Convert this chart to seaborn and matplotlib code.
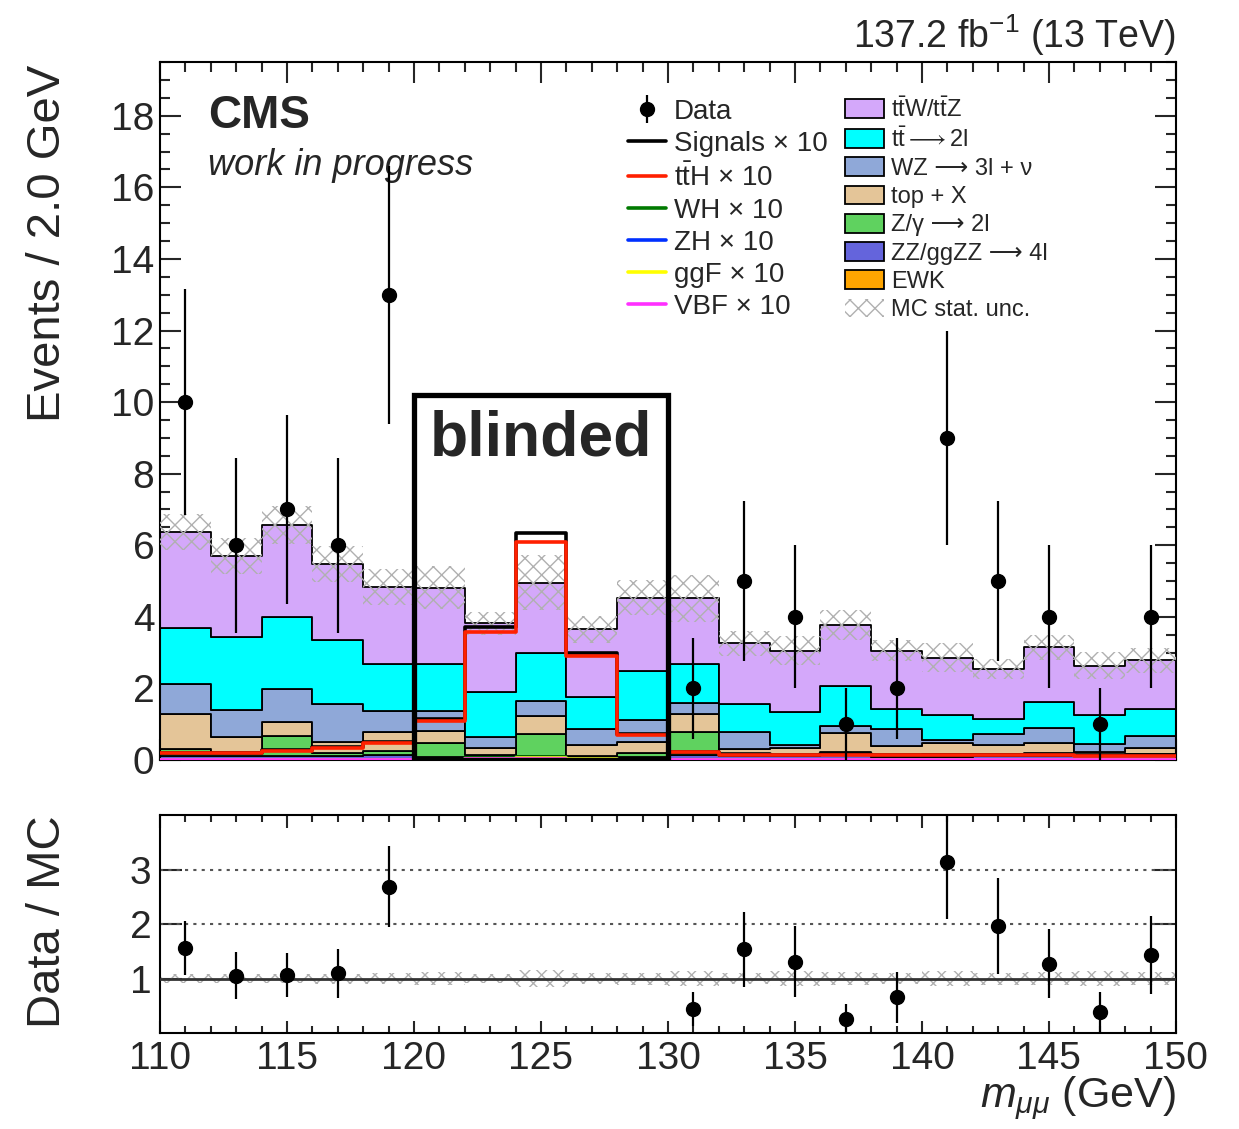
import numpy as np
import pandas as pd
import matplotlib
matplotlib.use("Agg")
import matplotlib.pyplot as plt
from matplotlib.patches import Patch, Rectangle
from matplotlib.lines import Line2D
from matplotlib.ticker import MultipleLocator, NullLocator, FixedLocator
import seaborn as sns

# ---------------- data ----------------
bin_edges = np.arange(110, 152, 2)          # 2 GeV bins, 110-150
bin_centers = 0.5 * (bin_edges[:-1] + bin_edges[1:])

ttw_ttz = [2.70, 2.25, 2.58, 2.12, 2.17, 2.15, 1.93, 1.98, 1.90, 2.04,
           1.85, 1.69, 1.71, 1.69, 1.63, 1.60, 1.40, 1.52, 1.37, 1.35]
tt_2l = [1.56, 2.05, 2.01, 1.79, 1.29, 1.29, 1.26, 1.33, 0.89, 1.38,
         1.09, 0.80, 0.93, 1.12, 0.57, 0.70, 0.41, 0.74, 0.83, 0.77]
wz_3l = [0.84, 0.75, 0.91, 1.05, 0.61, 0.56, 0.29, 0.42, 0.44, 0.61,
         0.29, 0.46, 0.09, 0.21, 0.47, 0.09, 0.31, 0.42, 0.22, 0.34]
top_x = [0.98, 0.43, 0.40, 0.31, 0.52, 0.34, 0.19, 0.51, 0.32, 0.31,
         0.50, 0.16, 0.18, 0.53, 0.25, 0.30, 0.25, 0.27, 0.07, 0.16]
z_gamma = [0.20, 0.12, 0.55, 0.10, 0.10, 0.40, 0.07, 0.62, 0.05, 0.12,
           0.65, 0.05, 0.05, 0.08, 0.05, 0.08, 0.06, 0.10, 0.05, 0.05]
zz_4l = [0.08, 0.08, 0.09, 0.08, 0.12, 0.06, 0.06, 0.08, 0.03, 0.06,
         0.10, 0.08, 0.08, 0.10, 0.07, 0.07, 0.08, 0.07, 0.08, 0.08]
ewk = [0.02, 0.02, 0.03, 0.02, 0.03, 0.02, 0.02, 0.02, 0.02, 0.02,
       0.04, 0.02, 0.02, 0.04, 0.02, 0.02, 0.03, 0.03, 0.02, 0.04]

mc_stat_unc = [0.50, 0.50, 0.53, 0.50, 0.50, 0.60, 0.32, 0.77, 0.37, 0.50,
               0.65, 0.35, 0.40, 0.42, 0.30, 0.40, 0.28, 0.35, 0.37, 0.35]

# signals (x10)
tth_x10 = [0.19, 0.19, 0.26, 0.34, 0.49, 1.10, 3.59, 6.10, 2.91, 0.70,
           0.22, 0.15, 0.14, 0.15, 0.14, 0.13, 0.13, 0.13, 0.12, 0.12]
wh_x10 = [0.005, 0.005, 0.005, 0.005, 0.008, 0.015, 0.05, 0.08, 0.03, 0.01,
          0.005, 0.005, 0.005, 0.005, 0.005, 0.005, 0.005, 0.005, 0.005, 0.005]
zh_x10 = [0.004, 0.004, 0.004, 0.004, 0.006, 0.012, 0.04, 0.07, 0.03, 0.008,
          0.004, 0.004, 0.004, 0.004, 0.004, 0.004, 0.004, 0.004, 0.004, 0.004]
ggf_x10 = [0.003, 0.003, 0.003, 0.003, 0.005, 0.01, 0.03, 0.05, 0.02, 0.006,
           0.003, 0.003, 0.003, 0.003, 0.003, 0.003, 0.003, 0.003, 0.003, 0.003]
vbf_x10 = [0.002, 0.002, 0.002, 0.002, 0.003, 0.006, 0.02, 0.03, 0.01, 0.004,
           0.002, 0.002, 0.002, 0.002, 0.002, 0.002, 0.002, 0.002, 0.002, 0.002]

data_counts = [10, 6, 7, 6, 13, np.nan, np.nan, np.nan, np.nan, np.nan,
               2, 5, 4, 1, 2, 9, 5, 4, 1, 4]

blind_lo, blind_hi, blind_top = 120, 130, 10.2

bkg_names = ["ttW/ttZ", "tt->2l", "WZ", "top+X", "Z/gamma", "ZZ", "EWK"]
bkg_values = [ttw_ttz, tt_2l, wz_3l, top_x, z_gamma, zz_4l, ewk]
bkg_colors = ["#d4a8fa", "#00ffff", "#8fa8d8", "#e4c598", "#5fd25f", "#6464dc", "#ffa500"]
bkg_labels = [r"t$\bar{\rm t}$W/t$\bar{\rm t}$Z", r"t$\bar{\rm t}\longrightarrow$2l",
              "WZ ⟶ 3l + ν", "top + X", "Z/γ ⟶ 2l", "ZZ/ggZZ ⟶ 4l", "EWK"]

# ---------------- style ----------------
sns.set_theme(style="ticks")
plt.rcParams.update({
    "font.family": ["Liberation Sans", "DejaVu Sans"],
    "mathtext.fontset": "custom",
    "mathtext.rm": "Liberation Sans",
    "mathtext.it": "Liberation Sans:italic",
    "mathtext.bf": "Liberation Sans:bold",
    "mathtext.fallback": "stixsans",
    "axes.linewidth": 1.5,
    "axes.edgecolor": "black",
    "hatch.linewidth": 1.0,
    "hatch.color": "#b0b0b0",
})
HATCH = "xx"

fig = plt.figure(figsize=(12.39, 11.29), dpi=100)
ax = fig.add_axes([0.1291, 0.3268, 0.8200, 0.6182])
rax = fig.add_axes([0.1291, 0.0850, 0.8200, 0.1931], sharex=ax)

# ---------------- stacked backgrounds ----------------
rows = []
for name, vals in zip(bkg_names, bkg_values):
    for c, v in zip(bin_centers, vals):
        rows.append((c, v, name))
bkg = pd.DataFrame(rows, columns=["mass", "events", "process"])

sns.histplot(data=bkg, x="mass", weights="events", hue="process",
             hue_order=bkg_names, palette=dict(zip(bkg_names, bkg_colors)),
             multiple="stack", binwidth=2, binrange=(110, 150), element="step", fill=True,
             alpha=1, edgecolor="black", linewidth=1.3, legend=False, ax=ax)

total = np.sum(np.array(bkg_values), axis=0)
unc = np.array(mc_stat_unc)

# MC stat band
ax.fill_between(bin_edges, np.append(total - unc, (total - unc)[-1]),
                np.append(total + unc, (total + unc)[-1]), step="post",
                facecolor="none", edgecolor="#b0b0b0", hatch=HATCH,
                linewidth=0, zorder=3)

# signals
signals_sum = (np.array(tth_x10) + np.array(wh_x10) + np.array(zh_x10)
               + np.array(ggf_x10) + np.array(vbf_x10))
sig_specs = [(signals_sum, "black"), (tth_x10, "#ff2000"), (wh_x10, "#007a00"),
             (zh_x10, "#0030ff"), (ggf_x10, "#ffff00"), (vbf_x10, "#ff30ff")]
for vals, col in sig_specs:
    sns.histplot(x=bin_centers, weights=vals, binwidth=2, binrange=(110, 150), element="step",
                 fill=False, color=col, linewidth=2.6, ax=ax, zorder=4)

# data
data = np.array(data_counts, dtype=float)
eb = ax.errorbar(bin_centers, data, yerr=np.sqrt(data), fmt="o", color="black",
                 ms=10, elinewidth=1.6, capsize=0, zorder=6)

# blinded box
ax.add_patch(Rectangle((blind_lo, 0), blind_hi - blind_lo, blind_top, fill=False,
                       edgecolor="black", linewidth=3.8, zorder=7))
ax.text(0.5 * (blind_lo + blind_hi), 8.5, "blinded", ha="center", va="baseline",
        fontsize=45, fontweight="bold", zorder=8)

ax.set_xlim(110, 150)
ax.set_ylim(0, 19.5)
ax.yaxis.set_major_locator(MultipleLocator(2))
ax.yaxis.set_minor_locator(MultipleLocator(0.5))
ax.xaxis.set_major_locator(MultipleLocator(5))
ax.xaxis.set_minor_locator(MultipleLocator(1))
ax.tick_params(which="both", direction="in", top=True, right=True, width=1.5,
               labelbottom=False, labelsize=28, pad=4)
ax.tick_params(which="major", length=15)
ax.tick_params(which="minor", length=7.5)
ax.set_xlabel("")
ax.set_ylabel("Events / 2.0 GeV", fontsize=34, loc="top")
ax.yaxis.set_label_coords(-0.089, 0.996)

# texts
ax.text(0.047, 0.9054, "CMS", transform=ax.transAxes, fontsize=33,
        fontweight="bold", va="baseline", ha="left")
ax.text(0.047, 0.838, "work in progress", transform=ax.transAxes, fontsize=26,
        style="italic", va="baseline", ha="left")
fig.text(0.9492, 0.9575, r"137.2 fb$^{-1}$ (13 TeV)", ha="right",
         va="baseline", fontsize=27)

# legends
left_handles = [eb] + [Line2D([], [], color=c, lw=2.6) for _, c in sig_specs]
left_labels = ["Data", "Signals × 10", r"t$\bar{\rm t}$H × 10", "WH × 10",
               "ZH × 10", "ggF × 10", "VBF × 10"]
leg1 = ax.legend(left_handles, left_labels, loc="upper left",
                 bbox_to_anchor=(0.461, 0.947), frameon=False, fontsize=20,
                 handlelength=1.35, handletextpad=0.3, labelspacing=0.22,
                 borderaxespad=0, borderpad=0)
ax.add_artist(leg1)

right_handles = [Patch(facecolor=c, edgecolor="black", linewidth=1.3) for c in bkg_colors]
right_handles.append(Patch(facecolor="white", edgecolor="#b0b0b0", hatch=HATCH, linewidth=0))
right_labels = bkg_labels + ["MC stat. unc."]
ax.legend(right_handles, right_labels, loc="upper left",
          bbox_to_anchor=(0.674, 0.950), frameon=False, fontsize=17,
          handlelength=1.65, handleheight=0.85, handletextpad=0.3,
          labelspacing=0.24, borderaxespad=0, borderpad=0)

# ---------------- ratio ----------------
ratio = data / total
ratio_err = np.sqrt(data) / total
rax.fill_between(bin_edges, np.append(1 - unc / total, (1 - unc / total)[-1]),
                 np.append(1 + unc / total, (1 + unc / total)[-1]), step="post",
                 facecolor="none", edgecolor="#b0b0b0", hatch=HATCH,
                 linewidth=0, zorder=2)
rax.axhline(1, color="#333333", lw=2.0, zorder=3)
for lvl in (2, 3):
    rax.axhline(lvl, color="#555555", lw=1.5, ls=(0, (1.5, 2.5)), zorder=1)
rax.errorbar(bin_centers, ratio, yerr=ratio_err, fmt="o", color="black",
             ms=10, elinewidth=1.6, capsize=0, zorder=6)

rax.set_ylim(0, 4)
rax.yaxis.set_major_locator(FixedLocator([1, 2, 3]))
rax.yaxis.set_minor_locator(NullLocator())
rax.tick_params(which="both", direction="in", top=True, right=True, width=1.5,
                labelsize=28, pad=6)
rax.tick_params(axis="y", which="major", length=16)
rax.tick_params(axis="x", which="major", length=9)
rax.tick_params(axis="x", which="minor", length=5)
rax.set_ylabel("Data / MC", fontsize=34, loc="top")
rax.yaxis.set_label_coords(-0.089, 1.0)
rax.set_xlabel(r"$m_{\mu\mu}$ (GeV)", fontsize=31, loc="right")
rax.xaxis.set_label_coords(1.0, -0.19)

for a in (ax, rax):
    for s in a.spines.values():
        s.set_visible(True)
        s.set_linewidth(1.5)

fig.savefig("out.png", dpi=100)
